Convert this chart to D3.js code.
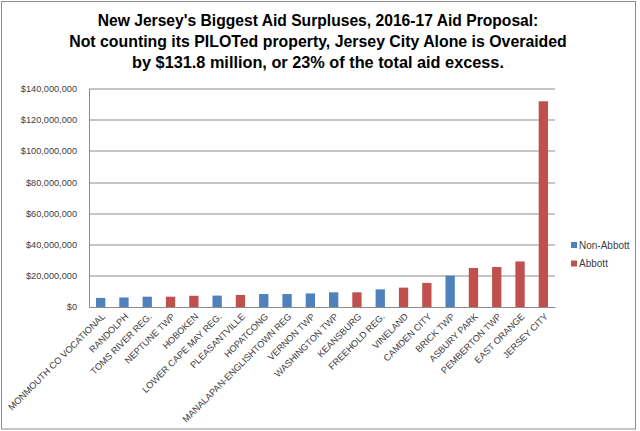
<!DOCTYPE html>
<html>
<head>
<meta charset="utf-8">
<script src="https://cdn.jsdelivr.net/npm/d3@7"></script>
<style>
  html, body { margin: 0; padding: 0; background: #fff; }
  svg { display: block; font-family: "Liberation Sans", Arial, sans-serif; }
</style>
</head>
<body>
<div id="chart"></div>
<script>
const titleLines = [
  "New Jersey's Biggest Aid Surpluses, 2016-17 Aid Proposal:",
  "Not counting its PILOTed property, Jersey City Alone is Overaided",
  "by $131.8 million, or 23% of the total aid excess.",
];

const districts = [
  "MONMOUTH CO VOCATIONAL", "RANDOLPH", "TOMS RIVER REG.", "NEPTUNE TWP",
  "HOBOKEN", "LOWER CAPE MAY REG.", "PLEASANTVILLE", "HOPATCONG",
  "MANALAPAN-ENGLISHTOWN REG", "VERNON TWP", "WASHINGTON TWP", "KEANSBURG",
  "FREEHOLD REG.", "VINELAND", "CAMDEN CITY", "BRICK TWP",
  "ASBURY PARK", "PEMBERTON TWP", "EAST ORANGE", "JERSEY CITY",
];

const surplus = [
  5.8, 6.1, 6.6, 6.6, 7.2, 7.3, 7.7, 8.3, 8.3, 8.7,
  9.4, 9.4, 11.3, 12.4, 15.4, 20.1, 25.0, 25.6, 29.2, 131.8,
].map((v) => v * 1e6);

const group = [
  "Non-Abbott", "Non-Abbott", "Non-Abbott", "Abbott",
  "Abbott", "Non-Abbott", "Abbott", "Non-Abbott",
  "Non-Abbott", "Non-Abbott", "Non-Abbott", "Abbott",
  "Non-Abbott", "Abbott", "Abbott", "Non-Abbott",
  "Abbott", "Abbott", "Abbott", "Abbott",
];

const groups = ["Non-Abbott", "Abbott"];
const groupColors = ["#4f81bd", "#c0504d"];
const yTicks = [0, 20e6, 40e6, 60e6, 80e6, 100e6, 120e6, 140e6];

const width = 640;
const height = 431;
const margin = { top: 88.5, right: 85, bottom: 124, left: 89 };
const fontFamily = "'Liberation Sans', Arial, sans-serif";

const rows = districts.map((name, i) => ({ name, value: surplus[i], group: group[i] }));

const svg = d3.select("#chart")
  .append("svg")
  .attr("width", width)
  .attr("height", height)
  .attr("viewBox", `0 0 ${width} ${height}`);

// outer chart frame
svg.append("rect")
  .attr("x", 1.5).attr("y", 1.5)
  .attr("width", 634).attr("height", 427.5)
  .attr("fill", "#fff")
  .attr("stroke", "#8c8c8c");

const title = svg.append("g")
  .attr("font-weight", "bold")
  .attr("fill", "#000")
  .attr("text-anchor", "middle");

// size each title line so it spans about as wide as in the original
const titleWidths = [441, 498, 372];
titleLines.forEach((line, i) => {
  const t = title.append("text")
    .attr("x", 318)
    .attr("y", 26 + i * 21)
    .attr("font-size", 16)
    .text(line);
  const natural = t.node().getComputedTextLength();
  t.attr("font-size", Math.min(17, 16 * titleWidths[i] / natural).toFixed(2));
});

const innerWidth = width - margin.left - margin.right;
const innerHeight = height - margin.top - margin.bottom;

const chart = svg.append("g")
  .attr("transform", `translate(${margin.left}, ${margin.top})`);

const x = d3.scaleBand()
  .domain(districts)
  .range([0, innerWidth])
  .paddingInner(0.6)
  .paddingOuter(0.3);

const y = d3.scaleLinear()
  .domain([0, 140e6])
  .range([innerHeight, 0]);

const color = d3.scaleOrdinal().domain(groups).range(groupColors);

// gridlines
chart.append("g")
  .selectAll("line")
  .data(yTicks.filter((t) => t > 0))
  .enter()
  .append("line")
  .attr("x1", 0)
  .attr("x2", innerWidth)
  .attr("y1", (t) => Math.round(y(t)) + 0.5)
  .attr("y2", (t) => Math.round(y(t)) + 0.5)
  .attr("stroke", "#8c8c8c");

// y axis
chart.append("g")
  .call(
    d3.axisLeft(y)
      .tickValues(yTicks)
      .tickFormat((v) => "$" + d3.format(",")(v))
      .tickSize(0)
      .tickPadding(12),
  )
  .attr("font-size", 9.2)
  .attr("font-family", fontFamily)
  .call((g) => g.select(".domain").attr("stroke", "#8c8c8c"))
  .call((g) => g.selectAll("text").attr("fill", "#404040"));

// bars
chart.selectAll("rect.bar")
  .data(rows)
  .enter()
  .append("rect")
  .attr("class", "bar")
  .attr("x", (d) => x(d.name))
  .attr("y", (d) => y(d.value))
  .attr("width", x.bandwidth())
  .attr("height", (d) => y(0) - y(d.value))
  .attr("fill", (d) => color(d.group));

// x axis with rotated category labels
chart.append("g")
  .attr("transform", `translate(0, ${innerHeight})`)
  .call(d3.axisBottom(x).tickSize(0).tickSizeOuter(0))
  .attr("font-size", 9.2)
  .attr("font-family", fontFamily)
  .call((g) => g.select(".domain").attr("stroke", "#8c8c8c"))
  .call((g) => g.selectAll("text")
    .attr("fill", "#404040")
    .attr("text-anchor", "end")
    .attr("dy", 0)
    .attr("transform", "translate(3, 8) rotate(-45)"));

// legend
const legend = svg.append("g")
  .attr("font-size", 10)
  .attr("font-family", fontFamily);

groups.forEach((name, i) => {
  legend.append("rect")
    .attr("x", 571).attr("y", 242 + i * 18.5)
    .attr("width", 6).attr("height", 6)
    .attr("fill", color(name));
  legend.append("text")
    .attr("x", 579)
    .attr("y", 245 + i * 18.5)
    .attr("dy", "0.35em")
    .attr("fill", "#404040")
    .text(name);
});
</script>
</body>
</html>
